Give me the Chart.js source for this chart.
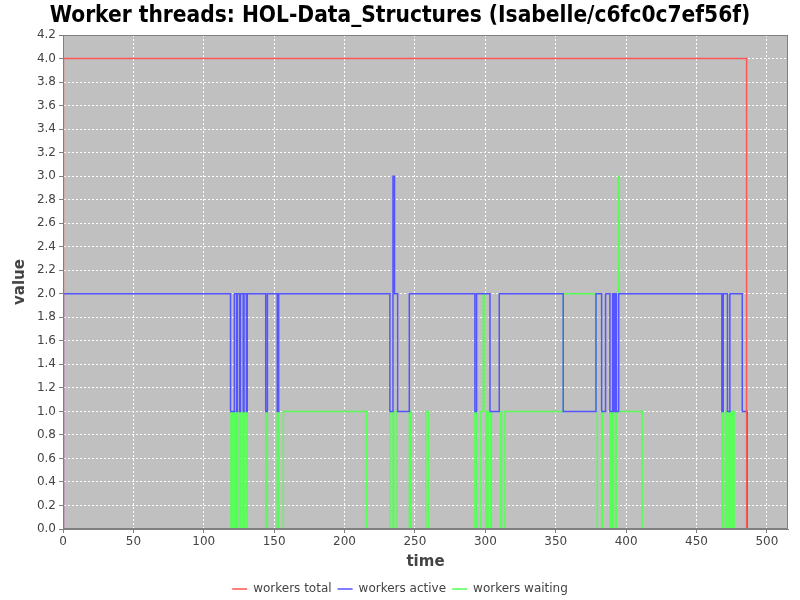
<!DOCTYPE html>
<html><head><meta charset="utf-8">
<script src="https://cdn.jsdelivr.net/npm/chart.js@4/dist/chart.umd.min.js"></script>
<style>html,body{margin:0;padding:0;background:#fff}</style>
</head><body>
<canvas id="c" width="800" height="600"></canvas>
<script>
const chartTitle = 'Worker threads: HOL-Data_Structures (Isabelle/c6fc0c7ef56f)';
const seriesNames = ['workers total', 'workers active', 'workers waiting'];
const xAxisRange = [0, 515];
const yAxisRange = [0, 4.2];

// change points: value holds from each time until the next time
const totalTimes  = [0, 0.3, 485.6, 490];
const totalValues = [0, 4, 0, 0];

const activeTimes  = [0, 0.3, 119, 121.7, 123.3, 123.9, 125.5, 126.1, 128, 128.6, 130.3, 130.9,
  144, 145.2, 152.2, 153.2, 232.2, 234.4, 235.5, 237.7, 246, 292.6, 293.8, 303.3, 309.9, 355.3, 378.6, 382.6, 385.4, 388.5,
  390.4, 391.2, 392.2, 393, 394.7, 468, 469, 472, 473.7, 482.5, 486, 490];
const activeValues = [0, 2, 1, 2, 1, 2, 1, 2, 1, 2, 1, 2,
  1, 2, 1, 2, 1, 3, 2, 1, 2, 1, 2, 1, 2, 1, 2, 1, 2, 1,
  2, 1, 2, 1, 2, 1, 2, 1, 2, 1, 0, 0];

const waitingTimes  = [0, 119.3, 120.2, 120.8, 122, 123.2, 124, 125.4, 126.3, 127.8, 128.7, 130.2, 130.9,
  144, 145.2, 152.2, 153.2, 156.5, 215.7, 232.2, 234.4, 235, 237.3, 246, 247, 257.8, 259.7,
  292.6, 293.8, 296.8, 298.5, 299.8, 300.3, 301, 302, 303.8, 304.3, 311, 311.5, 313.9, 355.3,
  378.6, 379.5, 382.6, 383.3, 388.5, 389.2, 389.8, 390.4, 391, 392.5, 393, 394.4, 395.1, 411.4,
  468, 469, 470.5, 471.5, 473, 474, 475.5, 476.7, 490];
const waitingValues = [0, 1, 0, 1, 0, 1, 0, 1, 0, 1, 0, 1, 0,
  1, 0, 1, 0, 1, 0, 1, 0, 1, 0, 1, 0, 1, 0,
  1, 0, 1, 2, 1, 0, 1, 0, 1, 0, 1, 0, 1, 2,
  1, 0, 1, 0, 1, 0, 1, 0, 1, 0, 1, 3, 1, 0,
  1, 0, 1, 0, 1, 0, 1, 0, 0];

const seriesColors = ['rgb(255,85,85)', 'rgb(85,85,255)', 'rgb(85,255,85)'];

function pts(ts, vs) { return ts.map((t, i) => ({x: t, y: vs[i]})); }

const plotBg = {
  id: 'plotBg',
  beforeDraw(chart) {
    const {ctx, chartArea: a} = chart;
    ctx.save();
    ctx.fillStyle = '#c0c0c0';
    ctx.fillRect(a.left, a.top, a.width, a.height);
    ctx.restore();
  },
  afterDraw(chart) {
    const {ctx, chartArea: a} = chart;
    ctx.save();
    ctx.strokeStyle = '#808080';
    ctx.lineWidth = 1;
    ctx.strokeRect(Math.round(a.left) + 0.5, Math.round(a.top) + 0.5, Math.round(a.width) - 1, Math.round(a.height) - 1);
    ctx.restore();
  }
};

const tickFont = {family: 'DejaVu Sans', size: 12};
const ds = (i, ts, vs) => ({label: seriesNames[i], data: pts(ts, vs), borderColor: seriesColors[i],
  backgroundColor: seriesColors[i], borderWidth: 1.5, pointStyle: 'line'});
new Chart(document.getElementById('c'), {
  type: 'line',
  data: {
    datasets: [ds(0, totalTimes, totalValues), ds(1, activeTimes, activeValues), ds(2, waitingTimes, waitingValues)]
  },
  options: {
    responsive: false,
    animation: false,
    devicePixelRatio: 1,
    layout: {padding: {left: 0, right: 0, top: 0, bottom: -5}},
    elements: {
      line: {stepped: 'before', tension: 0, fill: false},
      point: {radius: 0, hoverRadius: 0}
    },
    plugins: {
      title: {display: true, text: chartTitle, color: '#000',
        font: {family: 'DejaVu Sans Condensed, DejaVu Sans', weight: 'bold', size: 22.5, lineHeight: 1.2},
        padding: {top: 3, bottom: 5}},
      legend: {position: 'bottom',
        labels: {usePointStyle: true, pointStyle: 'line', pointStyleWidth: 15, boxHeight: 12, padding: 6,
          color: '#444', font: {family: 'DejaVu Sans', size: 12}}},
      tooltip: {enabled: false}
    },
    scales: {
      x: {type: 'linear', min: xAxisRange[0], max: xAxisRange[1],
        afterFit(s) { s.height = 48; },
        ticks: {stepSize: 50, includeBounds: false, color: '#444', font: tickFont, padding: 2, maxRotation: 0},
        grid: {color: '#ffffff', tickColor: '#808080', tickLength: 4, drawTicks: true},
        border: {display: true, color: '#808080', dash: [2, 2]},
        title: {display: true, text: 'time', color: '#444', font: {family: 'DejaVu Sans', size: 15, weight: 'bold'}, padding: {top: 6, bottom: 6}}
      },
      y: {type: 'linear', min: yAxisRange[0], max: yAxisRange[1],
        afterFit(s) { s.width = 63; },
        ticks: {stepSize: 0.2, includeBounds: false, color: '#444', font: tickFont, padding: 3,
          callback: v => Number(v).toFixed(1)},
        grid: {color: '#ffffff', tickColor: '#808080', tickLength: 4, drawTicks: true},
        border: {display: true, color: '#808080', dash: [2, 2]},
        title: {display: true, text: 'value', color: '#444', font: {family: 'DejaVu Sans', size: 15, weight: 'bold'}, padding: {top: 11, bottom: 0}}
      },
      yRightSpace: {type: 'linear', position: 'right', min: yAxisRange[0], max: yAxisRange[1],
        afterFit(s) { s.width = 12; },
        ticks: {display: false}, grid: {display: false, drawOnChartArea: false}, border: {display: false}
      }
    }
  },
  plugins: [plotBg]
});
</script>
</body></html>
